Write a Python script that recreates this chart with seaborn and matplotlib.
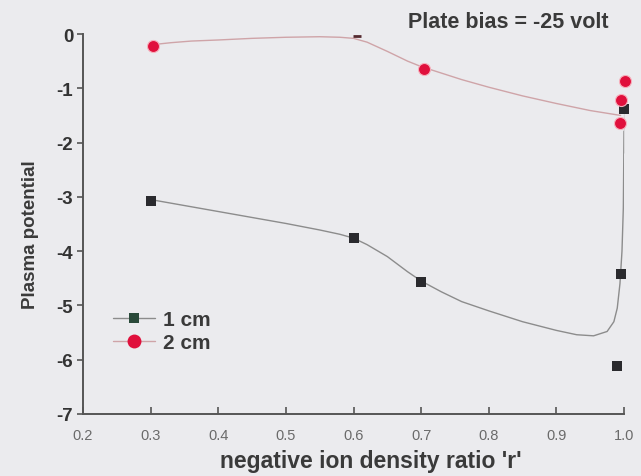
import numpy as np
import pandas as pd
import matplotlib
matplotlib.use("Agg")
import matplotlib.pyplot as plt
from matplotlib.lines import Line2D
import seaborn as sns

r_1cm = [0.30, 0.60, 0.70, 0.995, 0.99, 1.0]
v_1cm = [-3.07, -3.76, -4.57, -4.42, -6.11, -1.38]

r_2cm = [0.303, 0.704, 1.002, 0.996, 0.994]
v_2cm = [-0.22, -0.64, -0.87, -1.22, -1.64]

# punto de 2 cm casi tapado en r = 0.6
r_2cm_tenue = [0.605]
v_2cm_tenue = [-0.04]

# curvas de ajuste
curva_1cm_r = [0.30, 0.35, 0.40, 0.45, 0.50, 0.55, 0.58, 0.60, 0.62, 0.65, 0.68, 0.70,
               0.73, 0.76, 0.80, 0.85, 0.90, 0.93, 0.955, 0.975, 0.985, 0.99, 0.994,
               0.997, 0.999, 1.0, 1.0]
curva_1cm_v = [-3.05, -3.16, -3.27, -3.38, -3.49, -3.61, -3.69, -3.76, -3.88, -4.10, -4.38, -4.55,
               -4.75, -4.93, -5.10, -5.30, -5.46, -5.54, -5.56, -5.48, -5.30, -5.05, -4.60,
               -4.00, -3.20, -2.20, -1.38]

curva_2cm_r = [0.30, 0.33, 0.36, 0.40, 0.45, 0.50, 0.55, 0.58, 0.60, 0.62, 0.65, 0.68, 0.70,
               0.73, 0.76, 0.80, 0.85, 0.90, 0.95, 0.98, 0.995]
curva_2cm_v = [-0.20, -0.16, -0.13, -0.11, -0.08, -0.06, -0.05, -0.06, -0.08, -0.15, -0.32, -0.50,
               -0.60, -0.72, -0.84, -0.98, -1.14, -1.28, -1.41, -1.47, -1.50]

puntos_1 = pd.DataFrame({"r": r_1cm, "v": v_1cm})
puntos_2 = pd.DataFrame({"r": r_2cm, "v": v_2cm})
puntos_2t = pd.DataFrame({"r": r_2cm_tenue, "v": v_2cm_tenue})
curva_1 = pd.DataFrame({"r": curva_1cm_r, "v": curva_1cm_v})
curva_2 = pd.DataFrame({"r": curva_2cm_r, "v": curva_2cm_v})

bg = "#ebebee"
sns.set_theme(style="ticks", rc={"figure.facecolor": bg, "axes.facecolor": bg})
plt.rcParams["font.family"] = ["Liberation Sans", "DejaVu Sans"]

fig = plt.figure(figsize=(6.41, 4.77), dpi=100)
ax = fig.add_axes([0.1295, 0.130, 0.844, 0.7966])

sns.lineplot(data=curva_1, x="r", y="v", sort=False, color="#8c8c8c", lw=1.0, ax=ax)
sns.lineplot(data=curva_2, x="r", y="v", sort=False, color="#cfa4a8", lw=1.0, ax=ax)
sns.scatterplot(data=puntos_1, x="r", y="v", marker="s", s=45, color="#2a2a2e",
                edgecolor="#2a2a2e", linewidth=0, zorder=5, clip_on=False, ax=ax)
sns.scatterplot(data=puntos_2, x="r", y="v", marker="o", s=75, color="#e0103c",
                edgecolor="#f6b0bc", linewidth=0.8, zorder=6, clip_on=False, ax=ax)
sns.scatterplot(data=puntos_2t, x="r", y="v", marker="_", s=40, color="#552a30",
                linewidth=2.0, zorder=6, clip_on=False, ax=ax)

ax.set_xlim(0.2, 1.0)
ax.set_ylim(-7, 0)
ax.set_xticks([0.2, 0.3, 0.4, 0.5, 0.6, 0.7, 0.8, 0.9, 1.0])
ax.set_xticklabels(["0.2", "0.3", "0.4", "0.5", "0.6", "0.7", "0.8", "0.9", "1.0"])
ax.set_yticks([0, -1, -2, -3, -4, -5, -6, -7])
ax.set_yticklabels(["0", "-1", "-2", "-3", "-4", "-5", "-6", "-7"])

for s in ["top", "right"]:
    ax.spines[s].set_visible(False)
for s in ["left", "bottom"]:
    ax.spines[s].set_color("#555555")
    ax.spines[s].set_linewidth(1.4)

ax.tick_params(axis="x", direction="in", length=5, width=1.2, color="#555555",
               labelsize=10.5, labelcolor="#6a6a6a", pad=10)
ax.tick_params(axis="y", direction="out", length=4, width=1.2, color="#555555",
               labelsize=13.5, labelcolor="#333333", pad=3)
for t in ax.get_yticklabels():
    t.set_fontweight("bold")

ax.set_xlabel("negative ion density ratio 'r'", fontsize=16.5, fontweight="bold", color="#3a3a3a")
ax.set_ylabel("Plasma potential", fontsize=13.5, fontweight="bold", color="#3a3a3a")
ax.xaxis.set_label_coords(0.532, -0.092)
ax.yaxis.set_label_coords(-0.082, 0.474)

fig.text(408 / 641, 1 - 22 / 477, "Plate bias = -25 volt", fontsize=15.5,
         fontweight="bold", color="#3a3a3a", va="center", ha="left")

handles = [
    Line2D([], [], color="#8c8c8c", lw=1.0, marker="s", markersize=7,
           markerfacecolor="#2a4a3a", markeredgewidth=0),
    Line2D([], [], color="#cfa4a8", lw=1.0, marker="o", markersize=10,
           markerfacecolor="#e0103c", markeredgewidth=0),
]
leg = ax.legend(handles, ["1 cm", "2 cm"], loc="upper left", bbox_to_anchor=(0.04, 0.295),
                frameon=False, fontsize=15, handlelength=2.0, handletextpad=0.4,
                labelspacing=0.18, borderaxespad=0)
for t in leg.get_texts():
    t.set_fontweight("bold")
    t.set_color("#3a3a3a")

fig.savefig("out.png", dpi=100, facecolor=bg)
